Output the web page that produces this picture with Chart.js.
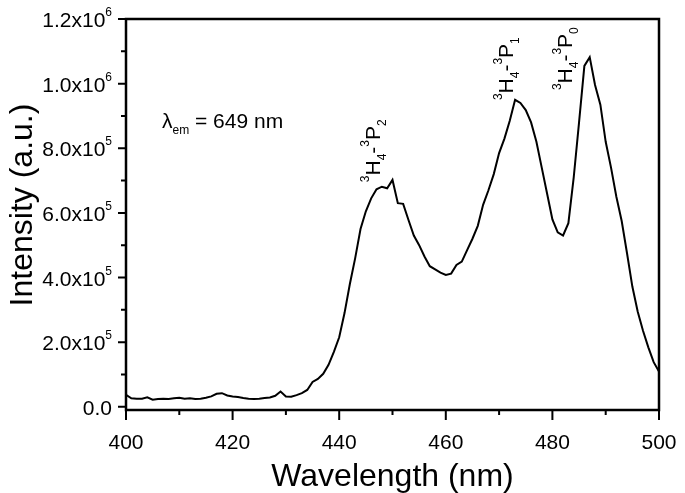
<!DOCTYPE html>
<html lang="en">
<head>
<meta charset="UTF-8" />
<title>Excitation spectrum</title>
<script src="https://cdn.jsdelivr.net/npm/chart.js@4"></script>
<style>
  html, body { margin: 0; padding: 0; background: #fff; }
  #wrap { width: 685px; height: 493px; }
</style>
</head>
<body>
<div id="wrap"><canvas id="spectrum" width="685" height="493"></canvas></div>
<script>
  // excitation spectrum
  const wavelengths = [
    400, 401, 402, 403, 404, 405, 406, 407, 408, 409,
    410, 411, 412, 413, 414, 415, 416, 417, 418, 419,
    420, 421, 422, 423, 424, 425, 426, 427, 428, 429,
    430, 431, 432, 433, 434, 435, 436, 437, 438, 439,
    440, 441, 442, 443, 444, 445, 446, 447, 448, 449,
    450, 451, 452, 453, 454, 455, 456, 457, 458, 459,
    460, 461, 462, 463, 464, 465, 466, 467, 468, 469,
    470, 471, 472, 473, 474, 475, 476, 477, 478, 479,
    480, 481, 482, 483, 484, 485, 486, 487, 488, 489,
    490, 491, 492, 493, 494, 495, 496, 497, 498, 499, 500
  ];
  const intensity = [
    37000, 26000, 25000, 25000, 29000, 22000, 24000, 25000, 24000, 26000,
    28000, 25000, 26000, 24000, 25000, 28000, 32000, 40000, 42000, 35000,
    32000, 30000, 27000, 25000, 24000, 25000, 27000, 29000, 34000, 47000,
    32000, 31000, 36000, 42000, 52000, 77000, 86000, 102000, 130000, 170000,
    215000, 290000, 380000, 460000, 550000, 605000, 645000, 673000, 681000, 676000,
    702000, 630000, 628000, 578000, 530000, 500000, 465000, 435000, 425000, 415000,
    408000, 412000, 439000, 449000, 485000, 520000, 560000, 625000, 670000, 720000,
    785000, 830000, 885000, 950000, 940000, 918000, 880000, 820000, 740000, 660000,
    580000, 540000, 530000, 568000, 710000, 880000, 1055000, 1082000, 996000, 935000,
    820000, 740000, 650000, 575000, 475000, 372000, 295000, 235000, 184000, 138000, 109000
  ];

  const xTicks = [400, 420, 440, 460, 480, 500];
  const xMinorTicks = [410, 430, 450, 470, 490];
  const yTicks = [0, 200000, 400000, 600000, 800000, 1000000, 1200000];
  const yTickLabels = ['0.0', '2.0x10^5', '4.0x10^5', '6.0x10^5', '8.0x10^5', '1.0x10^6', '1.2x10^6'];
  const yMinorTicks = [100000, 300000, 500000, 700000, 900000, 1100000];

  // transition labels: upper level, lower level, anchor [nm, intensity]
  const termLower = ['2', '1', '0'];
  const termAnchors = [[447.7, 695000], [472.6, 949000], [483.7, 980000]];

  const FONT = '"Liberation Sans", Arial, sans-serif';

  function drawRuns(ctx, runs, x, y) {
    // runs: [text, kind] where kind is '', 'sup' or 'sub'
    let cx = x;
    runs.forEach(([t, kind]) => {
      const size = kind ? 12 : 21;
      const dy = kind === 'sup' ? -11 : kind === 'sub' ? 6 : 0;
      ctx.font = size + 'px ' + FONT;
      ctx.fillText(t, cx, y + dy);
      cx += ctx.measureText(t).width;
    });
    return cx - x;
  }

  const frame = {
    id: 'frame',
    afterDraw(chart) {
      const { ctx, chartArea: a, scales: { x, y } } = chart;
      ctx.save();
      ctx.strokeStyle = '#000';
      ctx.fillStyle = '#000';
      ctx.lineWidth = 2.5;
      ctx.strokeRect(a.left, a.top, a.right - a.left, a.bottom - a.top);

      ctx.lineWidth = 2;
      ctx.beginPath();
      xTicks.forEach(v => { const p = x.getPixelForValue(v); ctx.moveTo(p, a.bottom); ctx.lineTo(p, a.bottom + 10); });
      xMinorTicks.forEach(v => { const p = x.getPixelForValue(v); ctx.moveTo(p, a.bottom); ctx.lineTo(p, a.bottom + 5); });
      yTicks.forEach(v => { const p = y.getPixelForValue(v); ctx.moveTo(a.left, p); ctx.lineTo(a.left - 8, p); });
      yMinorTicks.forEach(v => { const p = y.getPixelForValue(v); ctx.moveTo(a.left, p); ctx.lineTo(a.left - 5, p); });
      ctx.stroke();

      // x tick labels
      ctx.font = '21px ' + FONT;
      ctx.textAlign = 'center';
      ctx.textBaseline = 'alphabetic';
      xTicks.forEach(v => ctx.fillText(String(v), x.getPixelForValue(v), a.bottom + 39));

      // y tick labels with exponent
      ctx.textAlign = 'left';
      yTicks.forEach((v, i) => {
        const [base, exp] = yTickLabels[i].split('^');
        const runs = exp ? [[base, ''], [exp, 'sup']] : [[base, '']];
        ctx.font = '21px ' + FONT;
        let w = ctx.measureText(base).width;
        if (exp) { ctx.font = '12px ' + FONT; w += ctx.measureText(exp).width; }
        drawRuns(ctx, runs, a.left - 14 - w, y.getPixelForValue(v) + 8);
      });

      // axis titles
      ctx.font = '32px ' + FONT;
      ctx.textAlign = 'center';
      ctx.fillText('Wavelength (nm)', (a.left + a.right) / 2, 486);
      ctx.save();
      ctx.translate(32, 205);
      ctx.rotate(-Math.PI / 2);
      ctx.fillText('Intensity (a.u.)', 0, 0);
      ctx.restore();

      // excitation wavelength note
      ctx.textAlign = 'left';
      drawRuns(ctx, [['\u03bb', ''], ['em', 'sub'], [' = 649 nm', '']], 162, 128);

      // transition labels, rotated
      termAnchors.forEach(([wl, val], i) => {
        ctx.save();
        ctx.translate(x.getPixelForValue(wl), y.getPixelForValue(val));
        ctx.rotate(-Math.PI / 2);
        drawRuns(ctx, [['3', 'sup'], ['H', ''], ['4', 'sub'], ['-', ''], ['3', 'sup'], ['P', ''], [termLower[i], 'sub']], 0, 0);
        ctx.restore();
      });
      ctx.restore();
    }
  };

  new Chart(document.getElementById('spectrum'), {
    type: 'line',
    data: {
      datasets: [{
        data: wavelengths.map((w, i) => ({ x: w, y: intensity[i] })),
        borderColor: '#000',
        borderWidth: 2,
        pointRadius: 0,
        tension: 0,
        fill: false
      }]
    },
    options: {
      responsive: false,
      animation: false,
      layout: { padding: { left: 126, top: 19, right: 26, bottom: 83 } },
      plugins: { legend: { display: false }, tooltip: { enabled: false } },
      scales: {
        x: { type: 'linear', min: 400, max: 500, display: false },
        y: { type: 'linear', min: -10000, max: 1200000, display: false }
      }
    },
    plugins: [frame]
  });
</script>
</body>
</html>
